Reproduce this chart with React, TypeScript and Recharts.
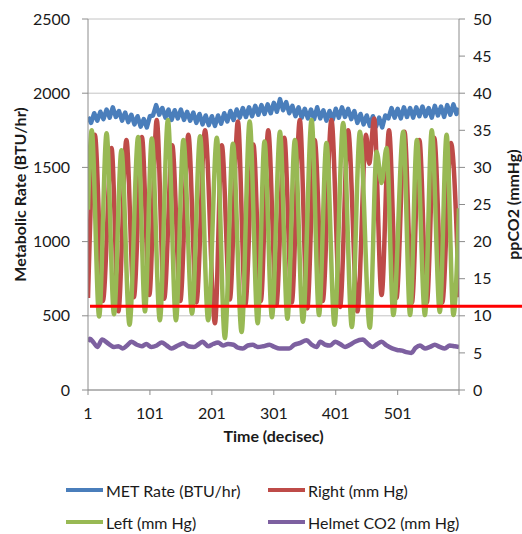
import {
  CartesianGrid,
  Legend,
  Line,
  LineChart,
  ReferenceLine,
  XAxis,
  YAxis,
} from 'recharts'

const CHART_W = 522
const CHART_H = 534

// time (decisec) axis
const timeTicks = [1, 101, 201, 301, 401, 501, 600]
const metTicks = [0, 500, 1000, 1500, 2000, 2500]
const co2Ticks = [0, 5, 10, 15, 20, 25, 30, 35, 40, 45, 50]
const limitLine = 11.3

// MET Rate (BTU/hr), read about every 5 decisec
const metTime = [
  1, 6, 11, 16, 21, 26, 31, 36, 41, 46, 51, 56, 61, 66, 71, 76, 81, 86, 91, 96,
  101, 106, 111, 116, 121, 126, 131, 136, 141, 146, 151, 156, 161, 166, 171, 176, 181, 186, 191, 196,
  201, 206, 211, 216, 221, 226, 231, 236, 241, 246, 251, 256, 261, 266, 271, 276, 281, 286, 291, 296,
  301, 306, 311, 316, 321, 326, 331, 336, 341, 346, 351, 356, 361, 366, 371, 376, 381, 386, 391, 396,
  401, 406, 411, 416, 421, 426, 431, 436, 441, 446, 451, 456, 461, 466, 471, 476, 481, 486, 491, 496,
  501, 506, 511, 516, 521, 526, 531, 536, 541, 546, 551, 556, 561, 566, 571, 576, 581, 586, 591, 596, 600,
]
const metRate = [
  1840, 1800, 1865, 1815, 1875, 1825, 1890, 1835, 1905, 1840, 1880, 1815, 1870, 1805, 1855, 1790, 1845, 1775, 1825, 1770,
  1845, 1850, 1920, 1855, 1900, 1835, 1890, 1820, 1885, 1830, 1890, 1820, 1875, 1815, 1870, 1800, 1860, 1790, 1850, 1785,
  1845, 1780, 1850, 1795, 1865, 1810, 1880, 1820, 1890, 1835, 1900, 1840, 1905, 1845, 1915, 1855, 1920, 1860, 1925, 1865,
  1935, 1875, 1960, 1885, 1940, 1865, 1915, 1845, 1905, 1835, 1895, 1830, 1890, 1825, 1905, 1830, 1885, 1815, 1880, 1820,
  1895, 1835, 1905, 1840, 1895, 1825, 1880, 1800, 1860, 1790, 1850, 1780, 1845, 1775, 1835, 1770, 1850, 1830, 1900, 1835,
  1895, 1830, 1905, 1840, 1900, 1835, 1905, 1845, 1910, 1845, 1900, 1835, 1915, 1850, 1910, 1840, 1920, 1855, 1925, 1860, 1900,
]

// Right (mm Hg): turning points
const rightTime = [
  1, 12, 25, 39, 50, 63, 75, 88, 100, 112, 124, 137, 150, 163, 176, 190, 206, 217, 230, 243,
  255, 268, 280, 292, 305, 318, 330, 343, 355, 367, 380, 394, 408, 421, 436, 450, 455, 463, 475, 487,
  499, 512, 524, 536, 548, 560, 573, 587, 600,
]
const rightCo2 = [
  12.4, 34.4, 12.0, 32.6, 10.6, 33.7, 12.5, 34.1, 12.8, 36.4, 12.3, 33.0, 12.0, 34.4, 11.8, 35.0, 9.0, 33.0, 12.2, 36.2,
  11.5, 33.1, 12.0, 35.0, 11.4, 34.0, 11.8, 36.4, 11.0, 33.7, 12.0, 36.4, 11.2, 35.0, 10.6, 34.4, 30.5, 36.6, 12.8, 35.0,
  12.4, 34.8, 11.8, 33.7, 11.8, 34.0, 11.8, 33.3, 12.5,
]

// Left (mm Hg): turning points
const leftTime = [
  1, 7, 19, 31, 43, 55, 68, 82, 93, 104, 117, 130, 143, 155, 169, 182, 195, 209, 222, 235,
  249, 262, 275, 286, 298, 311, 323, 335, 348, 362, 374, 386, 399, 413, 427, 440, 456, 467, 475, 483,
  494, 510, 521, 532, 545, 556, 569, 580, 591, 600,
]
const leftCo2 = [
  24.3, 35.0, 9.9, 34.6, 10.2, 32.3, 8.8, 34.1, 10.6, 33.9, 9.4, 36.4, 9.4, 33.7, 10.3, 34.2, 9.4, 34.0, 7.0, 33.2,
  7.8, 36.2, 9.0, 33.5, 9.8, 34.8, 9.6, 33.7, 9.2, 36.4, 10.1, 33.3, 8.8, 36.0, 8.5, 34.8, 8.4, 32.1, 27.9, 32.6,
  10.1, 34.8, 10.1, 33.7, 10.1, 35.0, 10.5, 34.4, 10.1, 24.5,
]

// Helmet CO2 (mm Hg)
const helmetTime = [
  1, 4, 10, 16, 24, 33, 43, 50, 57, 64, 71, 80, 88, 95, 103, 112, 120, 128, 136, 146,
  155, 163, 172, 180, 186, 195, 203, 211, 219, 227, 236, 243, 251, 259, 267, 275, 284, 294, 302, 310,
  318, 326, 334, 342, 354, 362, 370, 376, 384, 392, 400, 408, 416, 424, 432, 445, 452, 460, 468, 475,
  483, 492, 500, 508, 515, 523, 530, 537, 545, 553, 561, 569, 577, 585, 593, 600,
]
const helmetCo2 = [
  6.5, 6.9, 6.4, 5.8, 6.8, 6.3, 5.8, 5.9, 5.6, 6.0, 6.5, 6.1, 5.9, 6.2, 5.8, 6.0, 6.4, 6.0, 5.6, 6.0,
  6.3, 5.9, 5.8, 6.2, 6.5, 5.9, 6.2, 6.4, 6.0, 6.2, 6.1, 5.7, 5.6, 6.0, 6.1, 5.8, 5.9, 6.1, 5.8, 5.6,
  5.6, 5.6, 6.1, 6.3, 6.7, 6.1, 5.8, 6.5, 6.1, 6.0, 6.5, 6.2, 5.8, 6.1, 6.5, 6.8, 6.3, 5.8, 6.2, 6.5,
  6.0, 5.6, 5.4, 5.3, 5.1, 5.0, 5.7, 6.0, 5.6, 5.8, 6.1, 5.8, 5.6, 6.0, 5.9, 5.8,
]

const toRows = (ts: number[], vs: number[]) => ts.map((t, i) => ({ t, v: vs[i] }))

const series = [
  { name: 'MET Rate (BTU/hr)', color: '#4a7ebb', axis: 'left', data: toRows(metTime, metRate), type: 'linear' },
  { name: 'Right (mm Hg)', color: '#be4b48', axis: 'right', data: toRows(rightTime, rightCo2), type: 'monotone' },
  { name: 'Left (mm Hg)', color: '#98b954', axis: 'right', data: toRows(leftTime, leftCo2), type: 'monotone' },
  { name: 'Helmet CO2 (mm Hg)', color: '#7d60a0', axis: 'right', data: toRows(helmetTime, helmetCo2), type: 'monotone' },
]

const AXIS = '#8c8c8c'
const TEXT = '#1a1a1a'
const tick = { fill: TEXT, fontSize: 16 }

function ChartLegend() {
  return (
    <div
      style={{
        height: 60,
        display: 'grid',
        gridTemplateColumns: '202px 220px',
        gridAutoRows: 32,
        paddingLeft: 66,
        fontSize: 16,
        color: TEXT,
      }}
    >
      {series.map((s) => (
        <div key={s.name} style={{ display: 'flex', alignItems: 'center' }}>
          <span style={{ width: 37, height: 4, background: s.color, marginRight: 3 }} />
          <span>{s.name}</span>
        </div>
      ))}
    </div>
  )
}

function rotatedTitle(text: string, dx: number, dy: number) {
  return ({ viewBox }: any) => {
    const x = viewBox.x + dx
    const y = viewBox.y + viewBox.height / 2 + dy
    return (
      <text
        x={x}
        y={y}
        transform={`rotate(-90 ${x} ${y})`}
        textAnchor="middle"
        dominantBaseline="central"
        fontWeight="bold"
        fontSize={16}
        fill={TEXT}
      >
        {text}
      </text>
    )
  }
}

// threshold line: starts at the plot's left edge and runs out past the right axis
const LimitLine = (p: any) => (
  <line
    x1={Math.min(p.x1, p.x2) + 2}
    y1={p.y1}
    x2={CHART_W}
    y2={p.y2}
    stroke="#ff0000"
    strokeWidth={3}
  />
)

export default function App() {
  return (
    <div style={{ position: 'absolute', left: 0, top: 0, fontFamily: 'Lato, sans-serif', background: '#fff' }}>
      <LineChart width={CHART_W} height={CHART_H} margin={{ top: 19, right: 0, bottom: 0, left: 0 }}>
        <CartesianGrid yAxisId="left" vertical={false} stroke="#c4c4c4" />
        <XAxis
          dataKey="t"
          type="number"
          domain={[1, 600]}
          allowDataOverflow
          ticks={timeTicks}
          tickFormatter={(v) => (v === 600 ? '' : String(v))}
          height={84}
          tickSize={5}
          tickMargin={13}
          stroke={AXIS}
          tick={tick}
          label={{
            content: ({ viewBox }: any) => (
              <text
                x={viewBox.x + viewBox.width / 2}
                y={viewBox.y + 52}
                textAnchor="middle"
                fontWeight="bold"
                fontSize={16}
                fill={TEXT}
              >
                Time (decisec)
              </text>
            ),
          }}
        />
        <YAxis
          yAxisId="left"
          width={88}
          domain={[0, 2500]}
          ticks={metTicks}
          tickSize={6}
          tickMargin={12}
          stroke={AXIS}
          tick={tick}
          label={{ content: rotatedTitle('Metabolic Rate (BTU/hr)', 19, -10) }}
        />
        <YAxis
          yAxisId="right"
          orientation="right"
          width={63}
          domain={[0, 50]}
          ticks={co2Ticks}
          tickSize={6}
          tickMargin={8}
          stroke={AXIS}
          tick={tick}
          label={{ content: rotatedTitle('ppCO2 (mmHg)', 53, 0) }}
        />
        {series.map((s) => (
          <Line
            key={s.name}
            name={s.name}
            yAxisId={s.axis}
            data={s.data}
            dataKey="v"
            type={s.type as any}
            stroke={s.color}
            strokeWidth={4.5}
            strokeLinejoin="round"
            dot={false}
            activeDot={false}
            isAnimationActive={false}
          />
        ))}
        <ReferenceLine
          yAxisId="right"
          y={limitLine}
          zIndex={1500}
          stroke="#ff0000"
          strokeWidth={3}
          shape={LimitLine}
        />
        <Legend verticalAlign="bottom" content={() => <ChartLegend />} />
      </LineChart>
    </div>
  )
}
